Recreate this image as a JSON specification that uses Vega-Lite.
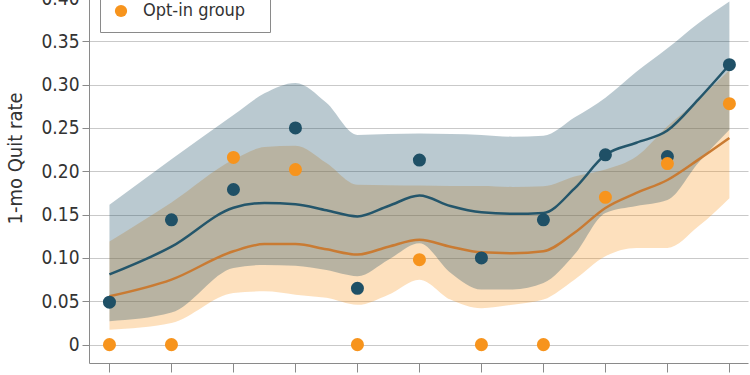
{
  "$schema": "https://vega.github.io/schema/vega-lite/v6.json",
  "width": 659,
  "height": 365,
  "autosize": {"type": "none"},
  "padding": {"left": 89, "top": -2, "right": 2, "bottom": 12},
  "background": "white",
  "config": {
    "font": "DejaVu Sans Condensed",
    "view": {"stroke": null},
    "axis": {
      "domainColor": "#8a8a8a",
      "tickColor": "#8a8a8a",
      "gridColor": "#c9c9c9",
      "labelColor": "#333333",
      "titleColor": "#333333",
      "labelFontSize": 19,
      "titleFontSize": 20,
      "titleFontWeight": "normal"
    }
  },
  "data": {
    "values": [
      {"group": "Opt-out group", "x": 1, "rate": 0.049, "fit": 0.081, "lo": 0.027, "hi": 0.1615},
      {"group": "Opt-out group", "x": 2, "rate": 0.144, "fit": 0.113, "lo": 0.037, "hi": 0.214},
      {"group": "Opt-out group", "x": 3, "rate": 0.179, "fit": 0.158, "lo": 0.0885, "hi": 0.265},
      {"group": "Opt-out group", "x": 3.5, "rate": null, "fit": 0.1635, "lo": 0.092, "hi": 0.29},
      {"group": "Opt-out group", "x": 4, "rate": 0.25, "fit": 0.162, "lo": 0.091, "hi": 0.302},
      {"group": "Opt-out group", "x": 4.5, "rate": null, "fit": 0.155, "lo": 0.086, "hi": 0.279},
      {"group": "Opt-out group", "x": 5, "rate": 0.065, "fit": 0.148, "lo": 0.079, "hi": 0.242},
      {"group": "Opt-out group", "x": 5.5, "rate": null, "fit": 0.16, "lo": 0.098, "hi": 0.243},
      {"group": "Opt-out group", "x": 6, "rate": 0.213, "fit": 0.172, "lo": 0.117, "hi": 0.2435},
      {"group": "Opt-out group", "x": 6.5, "rate": null, "fit": 0.16, "lo": 0.083, "hi": 0.243},
      {"group": "Opt-out group", "x": 7, "rate": 0.1, "fit": 0.1527, "lo": 0.0635, "hi": 0.242},
      {"group": "Opt-out group", "x": 7.5, "rate": null, "fit": 0.151, "lo": 0.0635, "hi": 0.24},
      {"group": "Opt-out group", "x": 8, "rate": 0.144, "fit": 0.152, "lo": 0.071, "hi": 0.241},
      {"group": "Opt-out group", "x": 8.5, "rate": null, "fit": 0.18, "lo": 0.104, "hi": 0.262},
      {"group": "Opt-out group", "x": 9, "rate": 0.219, "fit": 0.219, "lo": 0.152, "hi": 0.285},
      {"group": "Opt-out group", "x": 9.5, "rate": null, "fit": 0.233, "lo": 0.16, "hi": 0.315},
      {"group": "Opt-out group", "x": 10, "rate": 0.217, "fit": 0.247, "lo": 0.167, "hi": 0.342},
      {"group": "Opt-out group", "x": 10.5, "rate": null, "fit": 0.283, "lo": 0.21, "hi": 0.371},
      {"group": "Opt-out group", "x": 11, "rate": 0.323, "fit": 0.323, "lo": 0.248, "hi": 0.396},
      {"group": "Opt-in group", "x": 1, "rate": 0, "fit": 0.0558, "lo": 0.0173, "hi": 0.119},
      {"group": "Opt-in group", "x": 2, "rate": 0, "fit": 0.075, "lo": 0.025, "hi": 0.164},
      {"group": "Opt-in group", "x": 3, "rate": 0.216, "fit": 0.1077, "lo": 0.0596, "hi": 0.2135},
      {"group": "Opt-in group", "x": 3.5, "rate": null, "fit": 0.116, "lo": 0.0615, "hi": 0.228},
      {"group": "Opt-in group", "x": 4, "rate": 0.202, "fit": 0.116, "lo": 0.0577, "hi": 0.2296},
      {"group": "Opt-in group", "x": 4.5, "rate": null, "fit": 0.11, "lo": 0.054, "hi": 0.2097},
      {"group": "Opt-in group", "x": 5, "rate": 0, "fit": 0.1039, "lo": 0.046, "hi": 0.1846},
      {"group": "Opt-in group", "x": 5.5, "rate": null, "fit": 0.113, "lo": 0.0577, "hi": 0.184},
      {"group": "Opt-in group", "x": 6, "rate": 0.098, "fit": 0.121, "lo": 0.075, "hi": 0.1835},
      {"group": "Opt-in group", "x": 6.5, "rate": null, "fit": 0.113, "lo": 0.052, "hi": 0.183},
      {"group": "Opt-in group", "x": 7, "rate": 0, "fit": 0.1065, "lo": 0.042, "hi": 0.183},
      {"group": "Opt-in group", "x": 7.5, "rate": null, "fit": 0.1055, "lo": 0.046, "hi": 0.182},
      {"group": "Opt-in group", "x": 8, "rate": 0, "fit": 0.1077, "lo": 0.052, "hi": 0.1827},
      {"group": "Opt-in group", "x": 8.5, "rate": null, "fit": 0.129, "lo": 0.075, "hi": 0.194},
      {"group": "Opt-in group", "x": 9, "rate": 0.17, "fit": 0.1577, "lo": 0.102, "hi": 0.202},
      {"group": "Opt-in group", "x": 9.5, "rate": null, "fit": 0.175, "lo": 0.1116, "hi": 0.217},
      {"group": "Opt-in group", "x": 10, "rate": 0.209, "fit": 0.19, "lo": 0.1116, "hi": 0.252},
      {"group": "Opt-in group", "x": 10.5, "rate": null, "fit": 0.2135, "lo": 0.1365, "hi": 0.283},
      {"group": "Opt-in group", "x": 11, "rate": 0.278, "fit": 0.2385, "lo": 0.169, "hi": 0.317}
    ]
  },
  "encoding": {
    "x": {
      "field": "x",
      "type": "quantitative",
      "scale": {"domain": [0.67, 11.3], "nice": false, "zero": false},
      "axis": {
        "values": [1, 2, 3, 4, 5, 6, 7, 8, 9, 10, 11],
        "labels": false,
        "grid": false,
        "tickSize": 9,
        "title": null
      }
    }
  },
  "layer": [
    {
      "transform": [{"filter": "datum.group === 'Opt-in group'"}],
      "mark": {"type": "area", "interpolate": "monotone", "color": "#f7941d", "opacity": 0.29},
      "encoding": {
        "y": {
          "field": "hi",
          "type": "quantitative",
          "title": "1-mo Quit rate",
          "scale": {"domain": [-0.0212, 0.4], "nice": false, "zero": false},
          "axis": {
            "values": [0, 0.05, 0.1, 0.15, 0.2, 0.25, 0.3, 0.35, 0.4],
            "labelExpr": "datum.value === 0 ? '0' : format(datum.value, '.2f')",
            "tickSize": 7,
            "labelPadding": 3,
            "titleAngle": -90,
            "titleX": -74,
            "titleY": 160,
            "titleAlign": "center",
            "titleBaseline": "middle"
          }
        },
        "y2": {"field": "lo"}
      }
    },
    {
      "transform": [{"filter": "datum.group === 'Opt-out group'"}],
      "mark": {"type": "area", "interpolate": "monotone", "color": "#1f5066", "opacity": 0.31},
      "encoding": {
        "y": {"field": "hi", "type": "quantitative", "title": "1-mo Quit rate"},
        "y2": {"field": "lo"}
      }
    },
    {
      "transform": [{"filter": "datum.group === 'Opt-out group'"}],
      "mark": {"type": "line", "interpolate": "monotone", "color": "#24566b", "strokeWidth": 2.5},
      "encoding": {
        "y": {"field": "fit", "type": "quantitative", "title": "1-mo Quit rate"}
      }
    },
    {
      "transform": [{"filter": "datum.group === 'Opt-in group'"}],
      "mark": {"type": "line", "interpolate": "monotone", "color": "#c97b33", "strokeWidth": 2.5},
      "encoding": {
        "y": {"field": "fit", "type": "quantitative", "title": "1-mo Quit rate"}
      }
    },
    {
      "transform": [{"filter": "datum.rate !== null"}],
      "mark": {"type": "circle", "size": 170, "opacity": 1},
      "encoding": {
        "y": {"field": "rate", "type": "quantitative", "title": "1-mo Quit rate"},
        "color": {
          "field": "group",
          "type": "nominal",
          "scale": {"domain": ["Opt-out group", "Opt-in group"], "range": ["#1f5066", "#f7941d"]},
          "legend": {
            "orient": "none",
            "legendX": 11,
            "legendY": -33,
            "title": null,
            "strokeColor": "#8a8a8a",
            "fillColor": "white",
            "padding": 12,
            "labelFontSize": 18,
            "labelColor": "#333333",
            "labelLimit": 0,
            "labelOffset": 13,
            "symbolSize": 150,
            "symbolType": "circle",
            "symbolStrokeWidth": 0,
            "symbolOpacity": 1,
            "rowPadding": 7
          }
        }
      }
    }
  ]
}
